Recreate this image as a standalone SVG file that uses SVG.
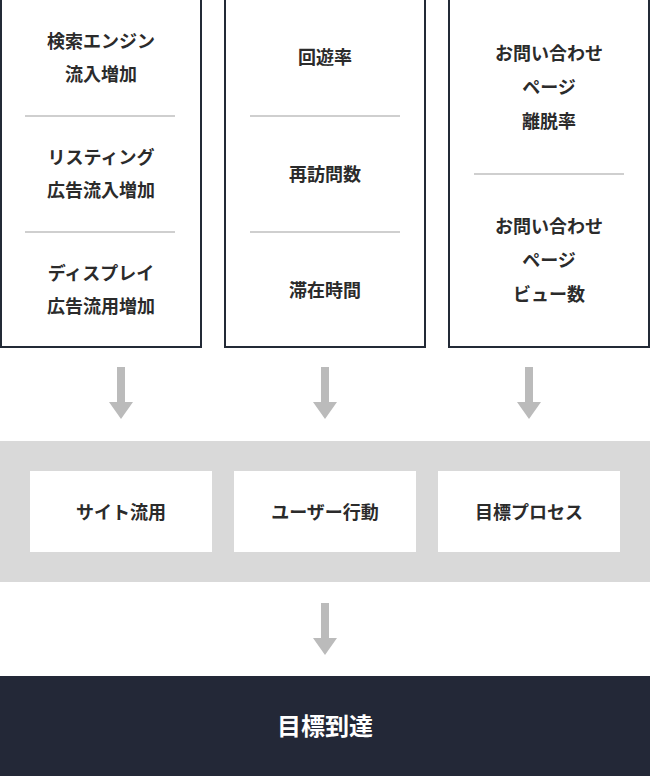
<svg xmlns="http://www.w3.org/2000/svg" width="650" height="776" viewBox="0 0 650 776">
<style>
.box{fill:#fff;stroke:#232a36;stroke-width:2}
.div{stroke:#cfcfcf;stroke-width:2}
.t{font-family:"Noto Sans CJK JP",sans-serif;font-weight:bold;font-size:18px;fill:#2b2b2b;text-anchor:middle}
.arr{fill:#bbbbbb}
.wb{fill:#fff}
</style>
<defs><path id="a" d="M-4,0H4V35H12L0,52L-12,35H-4Z"/></defs>
<rect width="650" height="776" fill="#fff"/>
<g id="col1">
<rect class="box" x="1" y="-1" width="200" height="348"/>
<line class="div" x1="25" y1="116" x2="175" y2="116"/>
<line class="div" x1="25" y1="232" x2="175" y2="232"/>
<text class="t" x="101" y="48">検索エンジン</text><text class="t" x="101" y="81">流入増加</text>
<text class="t" x="101" y="164">リスティング</text><text class="t" x="101" y="197">広告流入増加</text>
<text class="t" x="101" y="280">ディスプレイ</text><text class="t" x="101" y="313">広告流用増加</text>
</g>
<g id="col2">
<rect class="box" x="225" y="-1" width="200" height="348"/>
<line class="div" x1="250" y1="116" x2="400" y2="116"/>
<line class="div" x1="250" y1="232" x2="400" y2="232"/>
<text class="t" x="325" y="64">回遊率</text>
<text class="t" x="325" y="181">再訪問数</text>
<text class="t" x="325" y="297">滞在時間</text>
</g>
<g id="col3">
<rect class="box" x="449" y="-1" width="200" height="348"/>
<line class="div" x1="474" y1="174" x2="624" y2="174"/>
<text class="t" x="549" y="60">お問い合わせ</text><text class="t" x="549" y="94">ページ</text><text class="t" x="549" y="128">離脱率</text>
<text class="t" x="549" y="233">お問い合わせ</text><text class="t" x="549" y="267">ページ</text><text class="t" x="549" y="301">ビュー数</text>
</g>
<g id="connectors">
<use href="#a" class="arr" x="121" y="367"/>
<use href="#a" class="arr" x="325" y="367"/>
<use href="#a" class="arr" x="529" y="367"/>
<use href="#a" class="arr" x="325" y="603"/>
</g>
<g id="band">
<rect x="0" y="441" width="650" height="141" fill="#d9d9d9"/>
</g>
<g id="n1"><rect class="wb" x="30" y="471" width="182" height="81"/><text class="t" x="121" y="519">サイト流用</text></g>
<g id="n2"><rect class="wb" x="234" y="471" width="182" height="81"/><text class="t" x="325" y="519">ユーザー行動</text></g>
<g id="n3"><rect class="wb" x="438" y="471" width="182" height="81"/><text class="t" x="529" y="519">目標プロセス</text></g>
<g id="goal"><rect x="0" y="676" width="650" height="100" fill="#232837"/><text class="t" x="325" y="735" style="fill:#fff;font-size:24px">目標到達</text></g>
</svg>
